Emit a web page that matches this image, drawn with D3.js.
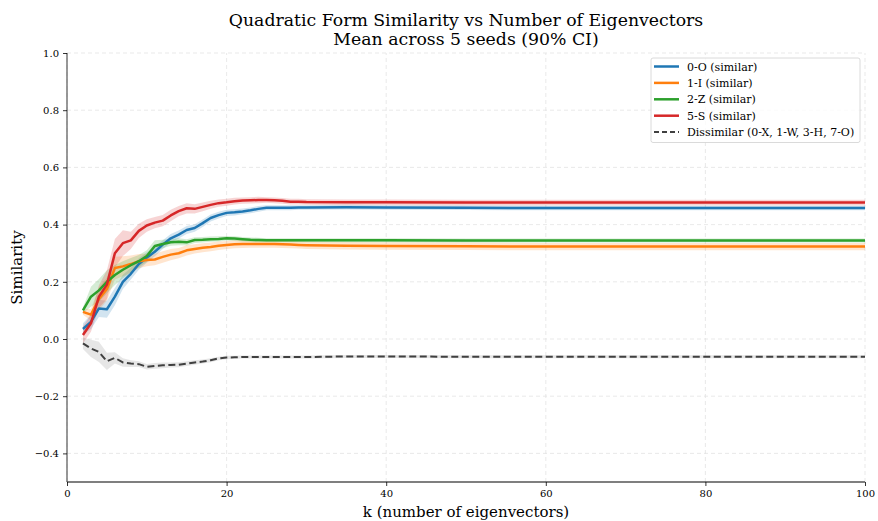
<!DOCTYPE html>
<html lang="en">
<head>
  <meta charset="UTF-8">
  <title>Quadratic Form Similarity vs Number of Eigenvectors</title>
  <script src="https://d3js.org/d3.v7.min.js"></script>
  <style>
    body { margin: 0; background: #fff; }
    text { font-family: "DejaVu Serif", serif; }
  </style>
</head>
<body>
  <div id="chart"></div>

  <script>
    // k values sampled (dense at the start, plateau afterwards)
    const ks = [2, 3, 4, 5, 6, 7, 8, 9, 10, 11, 12, 13, 14, 15, 16, 17, 18, 19, 20,
                21, 22, 23, 24, 25, 26, 27, 28, 29, 30, 35, 40, 50, 60, 70, 80, 90, 100];

    // Mean similarity per series
    const meanO = [0.035, 0.06, 0.107, 0.104, 0.148, 0.20, 0.228, 0.262, 0.285, 0.305, 0.33, 0.352, 0.365, 0.381, 0.388, 0.405, 0.423, 0.433, 0.441,
                   0.443, 0.446, 0.45, 0.455, 0.459, 0.459, 0.459, 0.459, 0.46, 0.46, 0.461, 0.46, 0.459, 0.458, 0.458, 0.458, 0.458, 0.458];
    const meanI = [0.095, 0.085, 0.14, 0.175, 0.248, 0.254, 0.262, 0.272, 0.276, 0.278, 0.287, 0.295, 0.30, 0.31, 0.315, 0.319, 0.322, 0.326, 0.329,
                   0.331, 0.332, 0.332, 0.332, 0.332, 0.332, 0.331, 0.33, 0.329, 0.328, 0.326, 0.325, 0.324, 0.323, 0.323, 0.323, 0.323, 0.323];
    const meanZ = [0.10, 0.148, 0.17, 0.20, 0.224, 0.242, 0.258, 0.272, 0.29, 0.325, 0.332, 0.338, 0.34, 0.338, 0.346, 0.347, 0.349, 0.35, 0.352,
                   0.351, 0.349, 0.347, 0.346, 0.345, 0.345, 0.345, 0.345, 0.345, 0.345, 0.345, 0.345, 0.344, 0.344, 0.344, 0.344, 0.344, 0.344];
    const meanS = [0.014, 0.055, 0.148, 0.19, 0.30, 0.335, 0.345, 0.378, 0.397, 0.407, 0.414, 0.432, 0.447, 0.457, 0.455, 0.462, 0.469, 0.475, 0.478,
                   0.482, 0.484, 0.485, 0.486, 0.486, 0.485, 0.483, 0.48, 0.48, 0.479, 0.478, 0.478, 0.477, 0.477, 0.477, 0.477, 0.477, 0.477];
    const meanDis = [-0.015, -0.033, -0.045, -0.078, -0.066, -0.082, -0.086, -0.088, -0.097, -0.094, -0.092, -0.091, -0.09, -0.086, -0.082, -0.079, -0.074, -0.068, -0.065,
                     -0.064, -0.063, -0.063, -0.063, -0.063, -0.063, -0.063, -0.063, -0.063, -0.063, -0.061, -0.061, -0.062, -0.062, -0.062, -0.062, -0.062, -0.062];

    // 90% CI half-widths per series
    const ciO = [0.02, 0.025, 0.03, 0.03, 0.03, 0.025, 0.02, 0.02, 0.018, 0.016, 0.015, 0.015, 0.014, 0.014, 0.013, 0.013, 0.012, 0.012, 0.011,
                 0.011, 0.01, 0.01, 0.01, 0.009, 0.009, 0.009, 0.009, 0.008, 0.008, 0.008, 0.008, 0.008, 0.008, 0.008, 0.008, 0.008, 0.008];
    const ciI = [0.01, 0.02, 0.04, 0.04, 0.04, 0.035, 0.03, 0.025, 0.022, 0.02, 0.02, 0.02, 0.018, 0.018, 0.016, 0.016, 0.015, 0.015, 0.014,
                 0.014, 0.014, 0.013, 0.013, 0.013, 0.013, 0.013, 0.013, 0.013, 0.013, 0.013, 0.013, 0.013, 0.013, 0.013, 0.013, 0.013, 0.013];
    const ciZ = [0.01, 0.035, 0.04, 0.04, 0.035, 0.03, 0.025, 0.022, 0.02, 0.02, 0.015, 0.012, 0.012, 0.011, 0.01, 0.01, 0.009, 0.009, 0.008,
                 0.008, 0.008, 0.008, 0.008, 0.007, 0.007, 0.007, 0.007, 0.007, 0.007, 0.007, 0.007, 0.007, 0.007, 0.007, 0.007, 0.007, 0.007];
    const ciS = [0.03, 0.03, 0.04, 0.05, 0.05, 0.045, 0.03, 0.025, 0.022, 0.02, 0.02, 0.02, 0.018, 0.018, 0.016, 0.015, 0.014, 0.013, 0.012,
                 0.012, 0.011, 0.011, 0.011, 0.01, 0.01, 0.01, 0.01, 0.01, 0.01, 0.01, 0.01, 0.01, 0.01, 0.01, 0.01, 0.01, 0.01];
    const ciDis = [0.02, 0.03, 0.035, 0.03, 0.02, 0.015, 0.012, 0.01, 0.01, 0.01, 0.01, 0.009, 0.009, 0.008, 0.008, 0.007, 0.007, 0.006, 0.006,
                   0.005, 0.005, 0.005, 0.005, 0.005, 0.005, 0.005, 0.005, 0.005, 0.005, 0.005, 0.005, 0.005, 0.005, 0.005, 0.005, 0.005, 0.005];

    const seriesNames = ['0-O (similar)', '1-I (similar)', '2-Z (similar)', '5-S (similar)', 'Dissimilar (0-X, 1-W, 3-H, 7-O)'];
    const seriesMeans = [meanO, meanI, meanZ, meanS, meanDis];
    const seriesCis = [ciO, ciI, ciZ, ciS, ciDis];
    const seriesColors = ['#1f77b4', '#ff7f0e', '#2ca02c', '#d62728', '#404040'];
    const seriesFills = ['#1f77b4', '#ff7f0e', '#2ca02c', '#d62728', '#808080'];

    const xTicks = [0, 20, 40, 60, 80, 100];
    const yTicks = [-0.4, -0.2, 0.0, 0.2, 0.4, 0.6, 0.8, 1.0];

    const width = 878, height = 521;
    const margin = { top: 53, right: 13, bottom: 39, left: 67 };

    const svg = d3.select('#chart')
      .append('svg')
      .attr('width', width)
      .attr('height', height);

    const x = d3.scaleLinear().domain([0, 100]).range([margin.left, width - margin.right]);
    const y = d3.scaleLinear().domain([-0.5, 1.0]).range([height - margin.bottom, margin.top]);
    const cx = (x(0) + x(100)) / 2;

    // grid
    const grid = svg.append('g').attr('stroke', '#e3e3e3').attr('stroke-dasharray', '4,3').attr('stroke-width', 0.8);
    xTicks.forEach(t => {
      grid.append('line')
        .attr('x1', x(t)).attr('x2', x(t))
        .attr('y1', y(-0.5)).attr('y2', y(1.0));
    });
    yTicks.forEach(t => {
      grid.append('line')
        .attr('x1', x(0)).attr('x2', x(100))
        .attr('y1', y(t)).attr('y2', y(t));
    });

    // CI bands
    seriesMeans.forEach((means, i) => {
      const ci = seriesCis[i];
      const area = d3.area()
        .x((d, j) => x(ks[j]))
        .y0((d, j) => y(d - ci[j]))
        .y1((d, j) => y(d + ci[j]));
      svg.append('path')
        .datum(means)
        .attr('d', area)
        .attr('fill', seriesFills[i])
        .attr('fill-opacity', 0.2);
    });

    // mean lines
    seriesMeans.forEach((means, i) => {
      const line = d3.line()
        .x((d, j) => x(ks[j]))
        .y(d => y(d));
      svg.append('path')
        .datum(means)
        .attr('d', line)
        .attr('fill', 'none')
        .attr('stroke', seriesColors[i])
        .attr('stroke-width', i === 4 ? 2 : 2.5)
        .attr('stroke-dasharray', i === 4 ? '7,3.5' : null)
        .attr('stroke-linejoin', 'round');
    });

    // axes
    const xAxis = svg.append('g')
      .attr('transform', `translate(0,${y(-0.5)})`)
      .call(d3.axisBottom(x).tickValues(xTicks).tickSize(4).tickPadding(4));
    const yAxis = svg.append('g')
      .attr('transform', `translate(${x(0)},0)`)
      .call(d3.axisLeft(y).tickValues(yTicks).tickFormat(d3.format('.1f')).tickSize(4).tickPadding(4));
    [xAxis, yAxis].forEach(ax => {
      ax.selectAll('text').attr('font-family', '"DejaVu Serif", serif').attr('font-size', 10).attr('fill', '#000');
      ax.selectAll('line').attr('stroke', '#000').attr('stroke-width', 0.8);
      ax.select('.domain').attr('stroke', '#000').attr('stroke-width', 1.2);
    });
    // the outer tick stubs of the domain path are dropped
    xAxis.select('.domain').attr('d', `M${x(0)},0H${x(100)}`);
    yAxis.select('.domain').attr('d', `M0,${y(-0.5)}V${y(1.0)}`).attr('stroke', '#555');

    // titles
    svg.append('text')
      .attr('x', cx).attr('y', 26)
      .attr('text-anchor', 'middle').attr('font-size', 17.3)
      .text('Quadratic Form Similarity vs Number of Eigenvectors');
    svg.append('text')
      .attr('x', cx).attr('y', 44.5)
      .attr('text-anchor', 'middle').attr('font-size', 17.3)
      .text('Mean across 5 seeds (90% CI)');

    svg.append('text')
      .attr('x', cx).attr('y', 517)
      .attr('text-anchor', 'middle').attr('font-size', 15)
      .text('k (number of eigenvectors)');
    svg.append('text')
      .attr('transform', `translate(22,${y(0.25)}) rotate(-90)`)
      .attr('text-anchor', 'middle').attr('font-size', 15)
      .text('Similarity');

    // legend
    const legend = svg.append('g').attr('transform', 'translate(651,58)');
    legend.append('rect')
      .attr('width', 209).attr('height', 84.5)
      .attr('rx', 2)
      .attr('fill', '#fff').attr('fill-opacity', 0.8)
      .attr('stroke', '#d0d0d0').attr('stroke-width', 0.8);
    seriesNames.forEach((name, i) => {
      const ly = 8.5 + i * 16.4;
      legend.append('line')
        .attr('x1', 3).attr('x2', 28)
        .attr('y1', ly).attr('y2', ly)
        .attr('stroke', seriesColors[i])
        .attr('stroke-width', i === 4 ? 2 : 2.5)
        .attr('stroke-dasharray', i === 4 ? '5,3' : null);
      legend.append('text')
        .attr('x', 36).attr('y', ly + 4)
        .attr('font-size', 11)
        .text(name);
    });
  </script>
</body>
</html>
